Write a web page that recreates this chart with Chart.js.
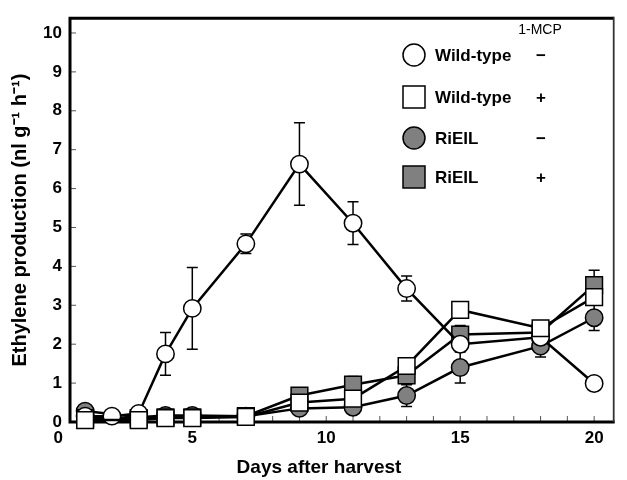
<!DOCTYPE html>
<html>
<head>
<meta charset="utf-8">
<script src="https://cdn.jsdelivr.net/npm/chart.js@4"></script>
<style>
  html, body { margin: 0; padding: 0; background: #ffffff; }
  #wrap { width: 627px; height: 480px; }
</style>
</head>
<body>
<div id="wrap"><canvas id="c" width="627" height="480"></canvas></div>
<script>
// ---- data ----
const days = [1, 2, 3, 4, 5, 7, 9, 11, 13, 15, 18, 20];
const wtMinus    = [0.15, 0.15, 0.22, 1.75, 2.92, 4.58, 6.63, 5.11, 3.43, 2.00, 2.18, 0.99];
const wtMinusErr = [null, null, null, 0.55, 1.05, 0.25, 1.06, 0.55, 0.32, null, null, null];
const wtPlus     = [0.05, null, 0.05, 0.10, 0.10, 0.13, 0.50, 0.60, 1.44, 2.88, 2.41, 3.21];
const wtPlusErr  = [null, null, null, null, null, null, null, null, null, null, null, null];
const rMinus     = [0.28, null, 0.12, 0.17, 0.17, 0.15, 0.35, 0.38, 0.68, 1.40, 1.95, 2.68];
const rMinusErr  = [null, null, null, null, null, null, null, null, 0.28, 0.40, 0.28, 0.33];
const rPlus      = [0.10, null, 0.10, 0.12, 0.12, 0.15, 0.68, 0.96, 1.20, 2.25, 2.30, 3.52];
const rPlusErr   = [null, null, null, null, null, null, null, 0.21, null, 0.23, null, 0.38];
const xTickLabels = [0, 5, 10, 15, 20];
const yTickLabels = [0, 1, 2, 3, 4, 5, 6, 7, 8, 9, 10];
const legendNames = ['Wild-type', 'Wild-type', 'RiEIL', 'RiEIL'];
const legendMcp   = ['\u2212', '+', '\u2212', '+'];
const xTitle = 'Days after harvest';
const yTitle = 'Ethylene production (nl g\u207B\u00B9 h\u207B\u00B9)';

const GREY = '#808080';
const FONT = "'Liberation Sans', Arial, sans-serif";

function pts(vals) { return days.map((d, i) => ({ x: d, y: vals[i] })); }

function ds(label, vals, errs, style, fill, radius) {
  return {
    label, data: pts(vals), errs,
    showLine: true, spanGaps: true, clip: false,
    borderColor: '#000', borderWidth: 2.5,
    pointStyle: style, pointRadius: radius, pointHoverRadius: radius,
    pointBackgroundColor: fill, pointBorderColor: '#000', pointBorderWidth: 1.5
  };
}

const framePlugin = {
  id: 'frame',
  beforeDatasetsDraw(chart) {
    const { ctx, chartArea: a, scales: { x, y } } = chart;
    ctx.save();
    // error bars (behind markers)
    ctx.strokeStyle = '#000'; ctx.lineWidth = 1.5;
    chart.data.datasets.forEach(d => {
      d.data.forEach((p, i) => {
        const e = d.errs[i];
        if (e == null || p.y == null) return;
        const px = x.getPixelForValue(p.x);
        const top = y.getPixelForValue(p.y + e), bot = y.getPixelForValue(p.y - e);
        ctx.beginPath();
        ctx.moveTo(px, top); ctx.lineTo(px, bot);
        ctx.moveTo(px - 5.5, top); ctx.lineTo(px + 5.5, top);
        ctx.moveTo(px - 5.5, bot); ctx.lineTo(px + 5.5, bot);
        ctx.stroke();
      });
    });
    // inward tick marks
    ctx.lineWidth = 1; ctx.strokeStyle = '#555';
    for (let v = 1; v <= 20; v++) {
      const px = x.getPixelForValue(v);
      if (px < a.left || px > a.right) continue;
      ctx.beginPath(); ctx.moveTo(px, a.bottom); ctx.lineTo(px, a.bottom - 6); ctx.stroke();
    }
    for (let v = 1; v <= 10; v++) {
      const py = y.getPixelForValue(v);
      ctx.beginPath(); ctx.moveTo(a.left, py); ctx.lineTo(a.left + 6, py); ctx.stroke();
    }
    // frame
    ctx.strokeStyle = '#000';
    ctx.lineWidth = 3;
    ctx.beginPath();
    ctx.moveTo(a.right, a.top); ctx.lineTo(a.left, a.top); ctx.lineTo(a.left, a.bottom); ctx.lineTo(a.right + 1, a.bottom);
    ctx.stroke();
    ctx.lineWidth = 1.8; ctx.strokeStyle = '#333';
    ctx.beginPath(); ctx.moveTo(a.right, a.top - 1.5); ctx.lineTo(a.right, a.bottom); ctx.stroke();
    ctx.restore();
  },
  afterDraw(chart) {
    const { ctx } = chart;
    ctx.save();
    // x axis title
    ctx.fillStyle = '#000';
    ctx.font = 'bold 19px ' + FONT;
    ctx.textAlign = 'center'; ctx.textBaseline = 'middle';
    ctx.fillText(xTitle, 319, 468);
    // legend
    ctx.font = '14px ' + FONT;
    ctx.fillText('1-MCP', 540, 30);
    const rows = [55, 97, 138, 177];
    const fills = ['#fff', '#fff', GREY, GREY];
    const shapes = ['circle', 'rect', 'circle', 'rect'];
    rows.forEach((ry, i) => {
      ctx.beginPath();
      if (shapes[i] === 'circle') ctx.arc(414, ry, 11, 0, Math.PI * 2);
      else ctx.rect(403, ry - 11, 22, 22);
      ctx.fillStyle = fills[i]; ctx.fill();
      ctx.lineWidth = 1.5; ctx.strokeStyle = '#000'; ctx.stroke();
      ctx.fillStyle = '#000';
      ctx.font = 'bold 17px ' + FONT;
      ctx.textAlign = 'left';
      ctx.fillText(legendNames[i], 435, ry + 1);
      ctx.textAlign = 'center';
      ctx.fillText(legendMcp[i], 541, ry + 1);
    });
    ctx.restore();
  }
};

new Chart(document.getElementById('c'), {
  type: 'scatter',
  data: {
    datasets: [
      ds('Wild-type +', wtPlus, wtPlusErr, 'rect', '#fff', 11.8),
      ds('Wild-type \u2212', wtMinus, wtMinusErr, 'circle', '#fff', 8.7),
      ds('RiEIL +', rPlus, rPlusErr, 'rect', GREY, 11.8),
      ds('RiEIL \u2212', rMinus, rMinusErr, 'circle', GREY, 8.7)
    ]
  },
  options: {
    responsive: false,
    animation: false,
    events: [],
    layout: { padding: { top: 12, right: 2, left: 0, bottom: 0 } },
    plugins: { legend: { display: false }, tooltip: { enabled: false } },
    scales: {
      x: {
        type: 'linear', min: 0.435, max: 20.73,
        afterBuildTicks: s => { s.ticks = xTickLabels.map(v => ({ value: v })); },
        afterFit: s => { s.height = 58; },
        grid: { display: false, drawTicks: false },
        border: { display: false },
        ticks: { color: '#000', padding: 6, maxRotation: 0, autoSkip: false,
                 font: { family: FONT, size: 17, weight: 'bold' } }
      },
      y: {
        type: 'linear', min: 0, max: 10.38,
        afterBuildTicks: s => { s.ticks = yTickLabels.map(v => ({ value: v })); },
        afterFit: s => { s.width = 70; },
        grid: { display: false, drawTicks: false },
        border: { display: false },
        ticks: { color: '#000', padding: 8, autoSkip: false,
                 font: { family: FONT, size: 17, weight: 'bold' } },
        title: { display: true, text: yTitle, color: '#000',
                 padding: { top: 8, bottom: 0 },
                 font: { family: FONT, size: 20, weight: 'bold' } }
      }
    }
  },
  plugins: [framePlugin]
});
</script>
</body>
</html>
